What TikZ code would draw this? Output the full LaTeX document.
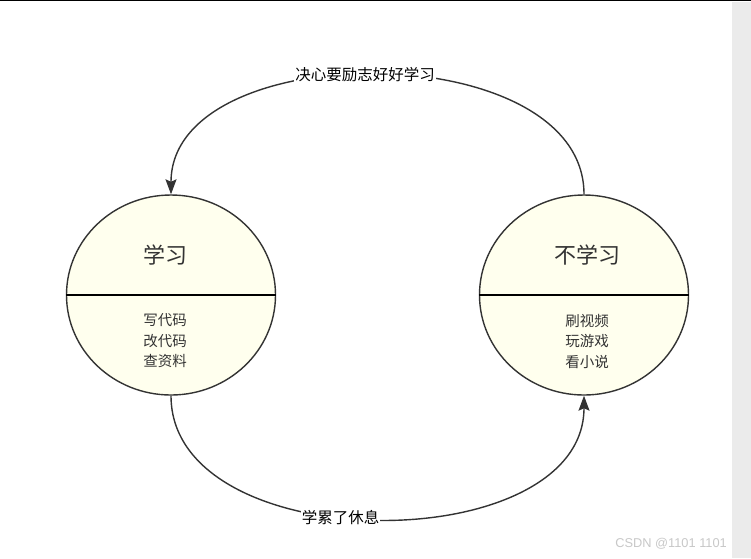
\documentclass[tikz,border=0pt]{standalone}
\usepackage{fontspec}
\newfontfamily\cjk{Noto Sans CJK SC}
\newfontfamily\wmfont{Liberation Sans}
\usetikzlibrary{shapes.geometric,arrows.meta}
\definecolor{stroke}{HTML}{333333}
\definecolor{fillc}{HTML}{FFFFEE}
\definecolor{strip}{HTML}{EBEBEB}
\definecolor{wm}{HTML}{C8C8C8}
\tikzset{
  state/.style={ellipse,draw=stroke,line width=1.4pt,fill=fillc,minimum width=209pt,minimum height=200pt,inner sep=0pt},
  title/.style={font=\cjk\fontsize{22}{26}\selectfont,text=stroke},
  items/.style={font=\cjk\fontsize{14.5}{20.5}\selectfont,text=stroke,align=center},
  conn/.style={draw=stroke,line width=1.4pt,-{Stealth[length=15pt,width=11pt,inset=2.5pt]}},
  lbl/.style={font=\cjk\fontsize{15.5}{18}\selectfont,text=black,fill=white,inner sep=1pt},
}
\begin{document}
\begin{tikzpicture}[x=1pt,y=-1pt]
\useasboundingbox (0,0) rectangle (751,558);
\fill[white] (0,0) rectangle (751,558);
\fill[strip] (732,2) rectangle (751,558);
\draw[black,line width=1.5pt] (0,0.7) -- (751,0.7);
\node[state] (L) at (171,295) {};
\node[state] (R) at (584,295) {};
\draw[stroke,line width=1.4pt] (L.west) -- (L.east);
\draw[stroke,line width=1.4pt] (R.west) -- (R.east);
\node[title] (Lt) at (165,255) {学习};
\node[title] (Rt) at (587,255) {不学习};
\node[items] (Li) at (165,341) {写代码\\改代码\\查资料};
\node[items] (Ri) at (587,341) {刷视频\\玩游戏\\看小说};
\draw[conn] (R.north) .. controls (584,35) and (171,35) .. node[lbl,pos=0.52] (top) {决心要励志好好学习} (L.north);
\draw[conn] (L.south) .. controls (171,560) and (584,560) .. node[lbl,pos=0.44] (bot) {学累了休息} (R.south);
\node[font=\wmfont\fontsize{12.8}{15}\selectfont,text=wm,anchor=east,inner sep=0pt] (wmk) at (727,544) {CSDN @1101 1101};
\end{tikzpicture}
\end{document}
